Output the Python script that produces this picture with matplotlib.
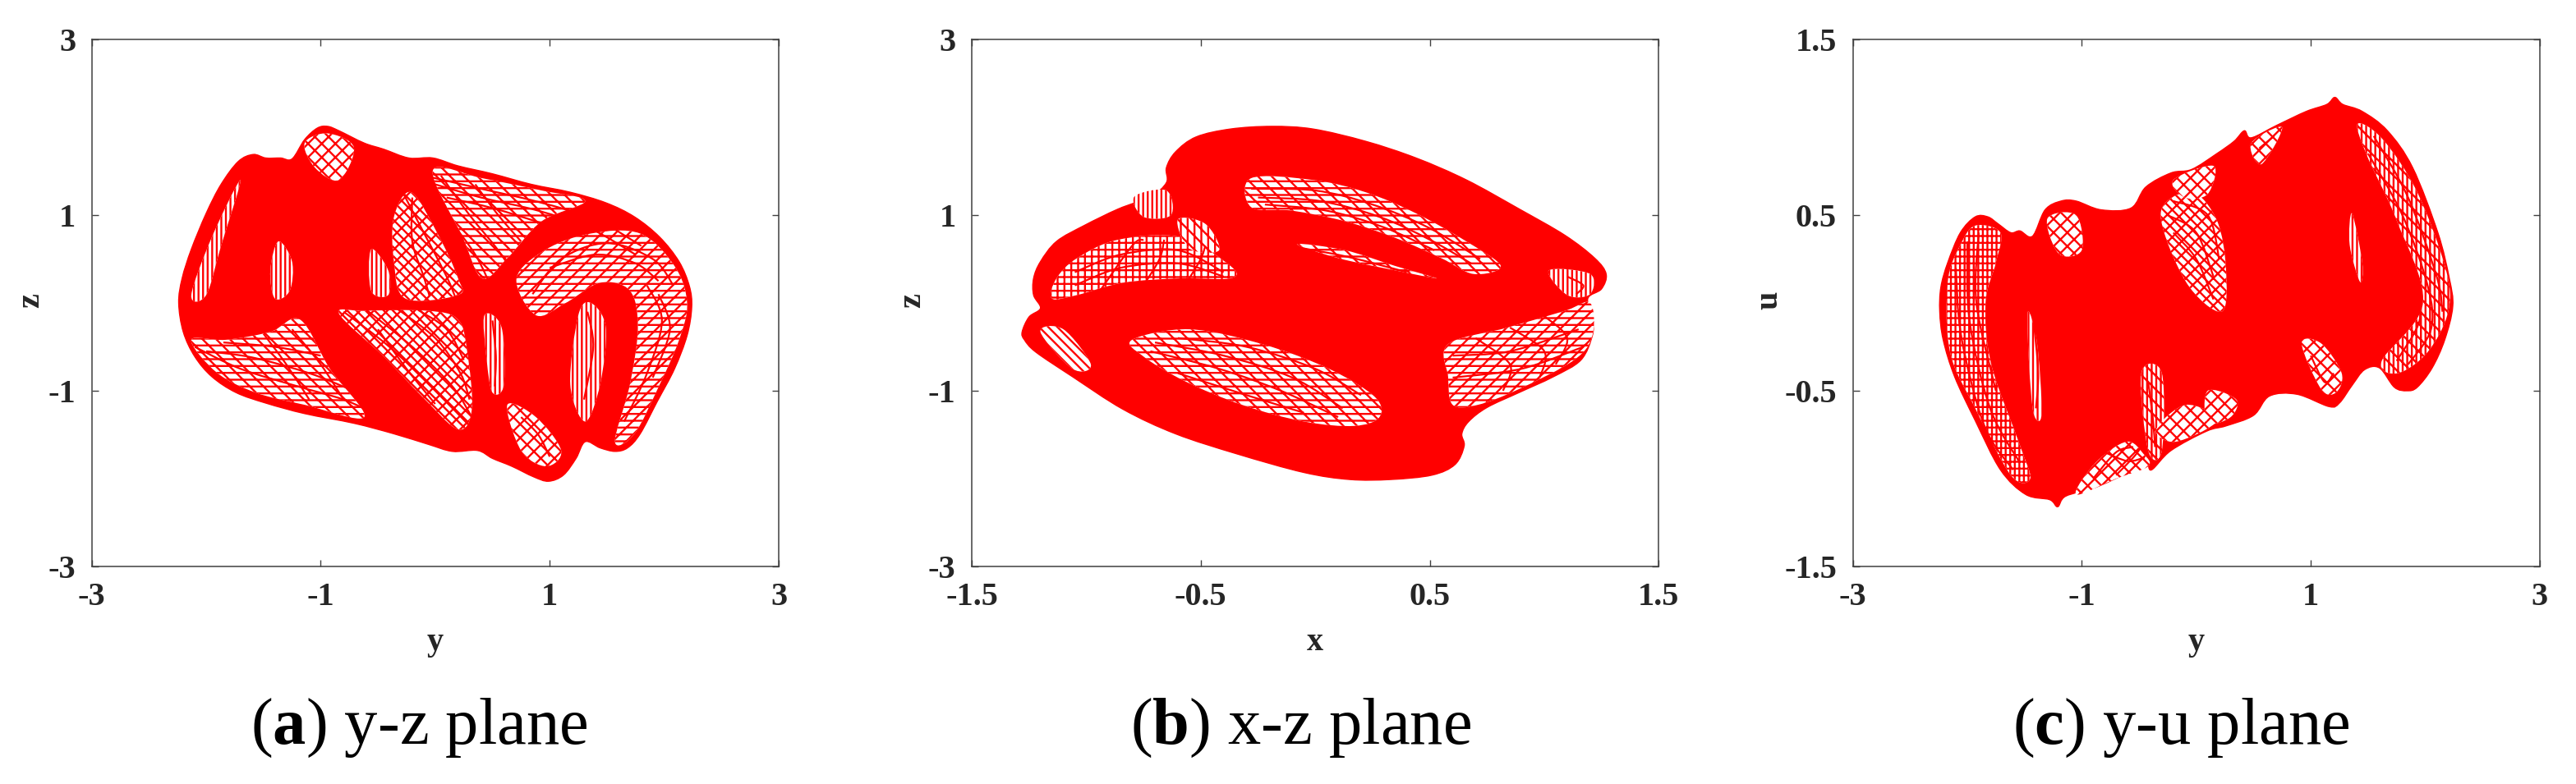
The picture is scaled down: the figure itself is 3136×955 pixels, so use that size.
import matplotlib
matplotlib.use('Agg')
import matplotlib.pyplot as plt
from matplotlib.path import Path
from matplotlib.patches import PathPatch

plt.rcParams['font.family'] = ['Liberation Serif', 'DejaVu Serif']
plt.rcParams['mathtext.fontset'] = 'custom'
plt.rcParams['mathtext.bf'] = 'Liberation Serif:bold'
plt.rcParams['mathtext.rm'] = 'Liberation Serif'
plt.rcParams['hatch.linewidth'] = 1.7

W, H = 3136, 955

# outer edge of each attractor
a_edge = [(-2.24,0),(-2.21,.28),(-2.13,.61),(-2.0,1.02),(-1.87,1.35),(-1.72,1.61),(-1.59,1.69),(-1.48,1.65),
    (-1.35,1.65),(-1.25,1.64),(-1.14,1.86),(-1.03,1.99),(-.94,2.01),(-.84,1.96),(-.62,1.82),(-.45,1.75),
    (-.23,1.65),(-.02,1.65),(.2,1.56),(.5,1.47),(.84,1.35),(1.18,1.26),(1.49,1.14),(1.74,.98),(1.96,.75),
    (2.13,.47),(2.22,.19),(2.24,-.05),(2.2,-.37),(2.09,-.75),(1.94,-1.12),(1.79,-1.49),(1.68,-1.65),
    (1.57,-1.69),(1.44,-1.65),(1.31,-1.58),(1.23,-1.77),(1.12,-1.96),(.99,-2.03),(.86,-1.98),(.67,-1.86),
    (.5,-1.77),(.37,-1.68),(.15,-1.69),(-.06,-1.61),(-.36,-1.49),(-.71,-1.37),(-1.14,-1.26),(-1.48,-1.14),
    (-1.74,-1.02),(-1.95,-.84),(-2.1,-.61),(-2.2,-.33)]
b_edge = [(-1.28,-.33),(-1.25,-.16),(-1.2,-.06),(-1.23,.09),(-1.23,.28),(-1.2,.47),(-1.13,.7),(-1.01,.88),
    (-.86,1.07),(-.72,1.21),(-.65,1.37),(-.65,1.54),(-.61,1.72),(-.52,1.89),(-.37,1.98),(-.19,2.01),
    (-.01,1.98),(.22,1.84),(.44,1.65),(.66,1.4),(.89,1.07),(1.09,.77),(1.22,.51),(1.27,.33),(1.25,.16),
    (1.19,.05),(1.21,-.19),(1.21,-.37),(1.16,-.65),(1.04,-.84),(.89,-1.02),(.75,-1.19),(.67,-1.35),
    (.64,-1.49),(.65,-1.63),(.61,-1.84),(.51,-1.96),(.33,-2.01),(.15,-2.01),(-.05,-1.93),(-.34,-1.72),
    (-.61,-1.49),(-.84,-1.21),(-1.06,-.84),(-1.22,-.56),(-1.27,-.42)]
c_edge = [(-2.24,-.05),(-2.23,.09),(-2.17,.23),(-2.06,.4),(-1.93,.49),(-1.82,.49),(-1.73,.45),(-1.62,.4),
    (-1.54,.41),(-1.43,.38),(-1.32,.53),(-1.18,.58),(-1.05,.58),(-.83,.53),(-.57,.54),(-.44,.66),(-.22,.74),
    (-.04,.76),(.18,.85),(.33,.92),(.42,.98),(.48,.94),(.7,1.01),(.96,1.09),(1.14,1.13),(1.21,1.17),
    (1.28,1.13),(1.45,1.09),(1.67,.98),(1.89,.77),(2.11,.4),(2.21,.14),(2.24,-.02),(2.17,-.21),(2.06,-.37),
    (1.93,-.48),(1.84,-.5),(1.73,-.48),(1.6,-.37),(1.47,-.38),(1.36,-.47),(1.25,-.57),(1.16,-.59),(.88,-.52),
    (.64,-.53),(.5,-.64),(.26,-.7),(.09,-.73),(-.22,-.84),(-.39,-.95),(-.44,-.91),(-.61,-.97),(-.88,-1.05),
    (-1.14,-1.1),(-1.21,-1.16),(-1.28,-1.12),(-1.49,-1.09),(-1.71,-.95),(-1.93,-.67),(-2.11,-.42),(-2.21,-.21)]

# thinner windows inside the attractors, where the orbit leaves gaps
a_gaps = [
    [(-.21,1.26),(.02,.79),(.2,.28),(.2,.09),(-.26,.05),(-.36,.47),(-.36,.98)],
    [(-.62,-.09),(-.06,-.09),(.2,-.19),(.28,-.56),(.32,-1.21),(.2,-1.44),(-.11,-1.07),(-.45,-.61),(-.84,-.12)],
    [(-.02,1.51),(.41,1.42),(.93,1.28),(1.31,1.16),(.93,.93),(.63,.51),(.41,.28),(.24,.75)],
    [(.71,.28),(.97,.61),(1.36,.79),(1.79,.79),(2.09,.42),(2.2,0),(2.13,-.42),(1.96,-.93),(1.74,-1.49),
     (1.57,-1.58),(1.7,-.93),(1.77,-.28),(1.7,.14),(1.44,.23),(1.14,0),(.88,-.14)],
    [(-2.13,-.42),(-1.83,-.42),(-1.44,-.33),(-1.18,-.19),(-.92,-.75),(-.62,-1.3),(-1.14,-1.16),(-1.57,-1.02),(-1.91,-.79)],
    [(1.25,-.14),(1.36,0),(1.49,-.28),(1.44,-.93),(1.31,-1.35),(1.18,-.93)],
    [(.63,-1.16),(.88,-1.3),(1.1,-1.68),(.97,-1.86),(.75,-1.68)],
    [(-1.37,.7),(-1.25,.47),(-1.27,.14),(-1.4,.05),(-1.44,.37)],
    [(-.56,.61),(-.41,.37),(-.41,.09),(-.56,.14)],
    [(-1.14,1.82),(-.94,1.93),(-.71,1.77),(-.84,1.4),(-1.05,1.54)],
    [(.43,-.14),(.58,-.28),(.6,-.93),(.5,-1.02),(.45,-.65)],
    [(-2.13,.09),(-1.95,.75),(-1.7,1.4),(-1.87,.65),(-2,.09)],
]
b_gaps = [
    [(-.28,1.42),(-.01,1.4),(.22,1.26),(.44,1.02),(.66,.7),(.81,.42),(.69,.33),(.55,.51),(.35,.74),(.13,.93),(-.1,1.05),(-.28,1.09)],
    [(-.08,.67),(.13,.6),(.35,.42),(.53,.28),(.35,.37),(.1,.51)],
    [(-1.13,.28),(-1.04,.51),(-.86,.72),(-.59,.75),(-.37,.42),(-.37,.28),(-.59,.28),(-.84,.23),(-1.04,.09),(-1.15,.05)],
    [(-.79,1.21),(-.65,1.28),(-.63,1.0),(-.75,.98)],
    [(-.8,-.42),(-.55,-.3),(-.23,-.47),(.06,-.75),(.26,-1.07),(.28,-1.3),(.17,-1.4),(-.05,-1.35),(-.32,-1.16),(-.57,-.89),(-.75,-.61)],
    [(.58,-.47),(.84,-.28),(1.09,-.09),(1.2,0),(1.21,-.37),(1.13,-.65),(.89,-.98),(.71,-1.16),(.6,-1.16),(.58,-.84)],
    [(-1.2,-.33),(-1.1,-.3),(-.98,-.7),(-1.06,-.75)],
    [(1.02,.37),(1.2,.33),(1.2,.1),(1.1,.09)],
    [(-.6,.95),(-.48,.9),(-.42,.6),(-.55,.62)],
]
c_gaps = [
    [(-1.47,-.05),(-1.39,-.23),(-1.35,-.63),(-1.42,-.63),(-1.46,-.35)],
    [(-2.17,.12),(-2.06,.33),(-1.93,.44),(-1.71,.4),(-1.75,.23),(-1.84,0),(-1.79,-.35),(-1.54,-.81),(-1.45,-1.0),(-1.62,-.98),(-1.93,-.6),(-2.15,-.28)],
    [(-.88,-.91),(-.61,-.79),(-.46,-.86),(-.42,-.93),(-.7,-1.0),(-1.05,-1.09)],
    [(-.48,-.4),(-.3,-.4),(-.3,-.84),(-.42,-.84)],
    [(-.31,.51),(-.04,.63),(.18,.47),(.26,.19),(.22,-.05),(-.09,.12)],
    [(.48,.91),(.75,1.0),(.57,.79)],
    [(1.41,1.02),(1.63,.93),(1.93,.63),(2.18,.19),(2.2,-.05),(2.02,-.28),(1.76,-.4),(1.62,-.33),(1.98,0),(1.75,.47),(1.49,.84)],
    [(1.36,.51),(1.45,.23),(1.43,.12),(1.34,.33)],
    [(.92,-.23),(1.09,-.23),(1.27,-.4),(1.22,-.51),(1.09,-.49)],
    [(-.09,-.58),(.18,-.67),(-.18,-.79),(-.35,-.72)],
    [(-1.3,.48),(-1.05,.5),(-1.0,.3),(-1.2,.28)],
    [(-.2,.7),(.15,.78),(.1,.62),(-.1,.6)],
    [(.1,-.5),(.35,-.55),(.3,-.65),(.1,-.68)],
]
a_hatch = ['\\\\\\//', '\\\\\\//', '\\\\--', '--//', '\\\\--', '|||', '\\\\//', '|||', '|||', '\\\\//', '|||', '|||']
b_hatch = ['\\\\--', '\\\\--', '--||', '|||', '\\\\--', '--//', '\\\\\\', '|||', '\\\\||']
c_hatch = ['|||', '|||--', '\\\\//', '\\\\|||', '\\\\\\//', '\\\\//', '|||\\\\', '|||', '\\\\//', '\\\\//', '\\\\//', '\\\\//', '\\\\//']

# single orbit strands seen through the windows
a_strands = [
    [(-.1,1.45),(.4,1.3),(.9,1.15),(1.4,.95),(1.8,.65)],
    [(0,1.35),(.4,1.2),(.9,1.05),(1.35,.85),(1.75,.55)],
    [(.1,1.2),(.5,1.08),(.95,.9),(1.3,.75)],
    [(-.15,1.5),(.1,1.0),(.35,.55),(.5,.15)],
    [(.05,1.45),(.3,1.0),(.55,.6),(.7,.3)],
    [(.35,1.35),(.55,1.0),(.75,.7)],
    [(-.3,1.3),(-.1,.8),(.1,.3),(.18,.05)],
    [(-.2,1.2),(-.2,.7),(-.1,.3),(-.05,.08)],
    [(-.8,-.1),(-.4,-.5),(0,-1.0),(.3,-1.4)],
    [(-.6,-.08),(-.2,-.5),(.15,-.95),(.32,-1.3)],
    [(-.35,-.05),(0,-.4),(.22,-.8),(.3,-1.1)],
    [(-.15,-.08),(.1,-.3),(.25,-.65)],
    [(-.5,-.3),(-.25,-.75),(0,-1.15)],
    [(-2.1,-.5),(-1.7,-.75),(-1.2,-.95),(-.8,-1.1),(-.55,-1.25)],
    [(-2.0,-.55),(-1.6,-.62),(-1.1,-.8),(-.75,-.98)],
    [(-1.85,-.45),(-1.4,-.5),(-1.0,-.6)],
    [(-1.5,-.35),(-1.3,-.7),(-1.1,-1.1)],
    [(-1.25,-.3),(-1.0,-.7),(-.8,-1.1)],
    [(.85,.1),(1.1,.5),(1.5,.68),(1.9,.5),(2.08,.2)],
    [(1.0,.4),(1.4,.55),(1.75,.45),(1.95,.25)],
    [(1.85,.2),(1.98,-.2),(1.85,-.8),(1.65,-1.35)],
    [(1.95,.1),(2.05,-.3),(1.9,-.85)],
    [(1.33,-.1),(1.38,-.5),(1.3,-1.1)],
    [(.75,-1.3),(.9,-1.5),(1.0,-1.75)],
    [(-1.95,.1),(-1.8,.75),(-1.65,1.2)],
    [(.5,-.2),(.53,-.6),(.52,-.95)],
]
b_strands = [
    [(-.28,1.3),(0,1.28),(.25,1.12),(.5,.85),(.72,.5)],
    [(-.25,1.2),(.02,1.16),(.28,.98),(.5,.72),(.68,.45)],
    [(-.22,1.12),(.05,1.05),(.3,.86),(.52,.6)],
    [(-.05,.62),(.15,.52),(.4,.35)],
    [(-1.05,.35),(-.85,.55),(-.6,.6),(-.4,.35)],
    [(-1.05,.2),(-.85,.4),(-.6,.45),(-.4,.3)],
    [(-.95,.1),(-.8,.65),(-.75,.72)],
    [(-.75,.2),(-.68,.5),(-.66,.72)],
    [(-.55,.28),(-.5,.5),(-.48,.65)],
    [(-.7,-.45),(-.4,-.6),(-.1,-.85),(.12,-1.2)],
    [(-.72,-.55),(-.42,-.75),(-.15,-1.0),(.1,-1.3)],
    [(-.6,-.4),(-.3,-.5),(0,-.75),(.2,-1.05)],
    [(-.6,-.8),(-.3,-1.05),(-.05,-1.25)],
    [(.7,-.4),(.85,-.7),(.82,-1.0)],
    [(.85,-.28),(1.0,-.55),(.98,-.85)],
    [(1.0,-.15),(1.1,-.4),(1.05,-.7)],
    [(.6,-.6),(.85,-.55),(1.15,-.3)],
    [(.6,-.85),(.9,-.75),(1.17,-.5)],
    [(1.1,.3),(1.17,.2),(1.14,.1)],
]
c_strands = [
    [(-2.1,.2),(-2.05,-.2),(-1.85,-.7),(-1.6,-.95)],
    [(-2.0,.35),(-1.98,-.1),(-1.8,-.6),(-1.55,-.9)],
    [(-1.9,.4),(-1.92,0),(-1.75,-.5)],
    [(-1.42,-.1),(-1.38,-.4),(-1.4,-.6)],
    [(-.8,-.85),(-.6,-.9),(-.45,-.88)],
    [(-.9,-1.0),(-.7,-.85),(-.55,-.82)],
    [(-.7,-.98),(-.55,-.88),(-.48,-.82)],
    [(-.42,-.45),(-.38,-.65),(-.36,-.82)],
    [(-.25,.5),(0,.4),(.15,.15)],
    [(-.2,.58),(.1,.5),(.2,.25)],
    [(-.2,.4),(0,.25),(.15,.02)],
    [(1.55,.95),(1.85,.6),(2.1,.15),(2.15,-.05)],
    [(1.5,.85),(1.8,.5),(2.02,.1),(2.05,-.15),(1.85,-.35)],
    [(1.9,.1),(1.95,-.1),(1.75,-.33)],
    [(1.0,-.3),(1.12,-.45),(1.2,-.4)],
    [(.55,.88),(.68,.95)],
]

panels = [
    dict(left=111.6, xl=(-3,3), yl=(-3,3), xt=[-3,-1,1,3], yt=[-3,-1,1,3], xt_lab=['-3','-1','1','3'], yt_lab=['-3','-1','1','3'],
         xlab='y', ylab='z', ylab_x=38, edge=a_edge, gaps=a_gaps, hatch=a_hatch, strands=a_strands, cap='($\\mathbf{a}$) y-z plane', cap_x=510),
    dict(left=1183, xl=(-1.5,1.5), yl=(-3,3), xt=[-1.5,-.5,.5,1.5], yt=[-3,-1,1,3], xt_lab=['-1.5','-0.5','0.5','1.5'], yt_lab=['-3','-1','1','3'],
         xlab='x', ylab='z', ylab_x=1111, edge=b_edge, gaps=b_gaps, hatch=b_hatch, strands=b_strands, cap='($\\mathbf{b}$) x-z plane', cap_x=1583),
    dict(left=2255.5, xl=(-3,3), yl=(-1.5,1.5), xt=[-3,-1,1,3], yt=[-1.5,-.5,.5,1.5], xt_lab=['-3','-1','1','3'], yt_lab=['-1.5','-0.5','0.5','1.5'],
         xlab='y', ylab='u', ylab_x=2154, edge=c_edge, gaps=c_gaps, hatch=c_hatch, strands=c_strands, cap='($\\mathbf{c}$) y-u plane', cap_x=2655),
]


def segment(p0, p1, p2, p3):
    # bezier handles so that the drawn curve passes through the read points
    c1 = (p1[0]+(p2[0]-p0[0])/6, p1[1]+(p2[1]-p0[1])/6)
    c2 = (p2[0]-(p3[0]-p1[0])/6, p2[1]-(p3[1]-p1[1])/6)
    return [c1, c2, p2]


def closed_curve(pts):
    n = len(pts)
    verts = [pts[0]]
    codes = [Path.MOVETO]
    for i in range(n):
        verts += segment(pts[i-1], pts[i], pts[(i+1) % n], pts[(i+2) % n])
        codes += [Path.CURVE4]*3
    return Path(verts, codes)


def open_curve(pts):
    verts = [pts[0]]
    codes = [Path.MOVETO]
    n = len(pts)
    for i in range(n-1):
        verts += segment(pts[max(i-1, 0)], pts[i], pts[i+1], pts[min(i+2, n-1)])
        codes += [Path.CURVE4]*3
    return Path(verts, codes)


fig = plt.figure(figsize=(W/100, H/100), dpi=100)
top, bottom, width = 48, 690, 836.4
red = '#ff0000'
dark = '#262626'

for p in panels:
    ax = fig.add_axes([p['left']/W, 1-bottom/H, width/W, (bottom-top)/H])
    ax.add_patch(PathPatch(closed_curve(p['edge']), facecolor=red, edgecolor=red, lw=1))
    for g, h in zip(p['gaps'], p['hatch']):
        ax.add_patch(PathPatch(closed_curve(g), facecolor='white', edgecolor=red, hatch=h, lw=0))
    for s in p['strands']:
        ax.add_patch(PathPatch(open_curve(s), facecolor='none', edgecolor=red, lw=1.6))
    ax.set_xlim(p['xl'])
    ax.set_ylim(p['yl'])
    ax.set_xticks(p['xt'], p['xt_lab'])
    ax.set_yticks(p['yt'], p['yt_lab'])
    ax.tick_params(direction='in', top=True, right=True, length=6, width=1, color='#404040',
                   labelsize=29, labelcolor=dark, pad=14)
    for lab in ax.get_xticklabels() + ax.get_yticklabels():
        lab.set_fontweight('bold')
    for sp in ax.spines.values():
        sp.set_linewidth(1.1)
        sp.set_color('#404040')
    fig.text((p['left']+width/2)/W, 1-782/H, p['xlab'], fontsize=29, fontweight='bold', color=dark, ha='center', va='center')
    fig.text(p['ylab_x']/W, 1-366/H, p['ylab'], fontsize=29, fontweight='bold', color=dark, ha='center', va='center', rotation=90)
    fig.text(p['cap_x']/W, 1-906/H, p['cap'], fontsize=58, color='black', ha='center', va='baseline')

fig.savefig('out.png', dpi=100)
